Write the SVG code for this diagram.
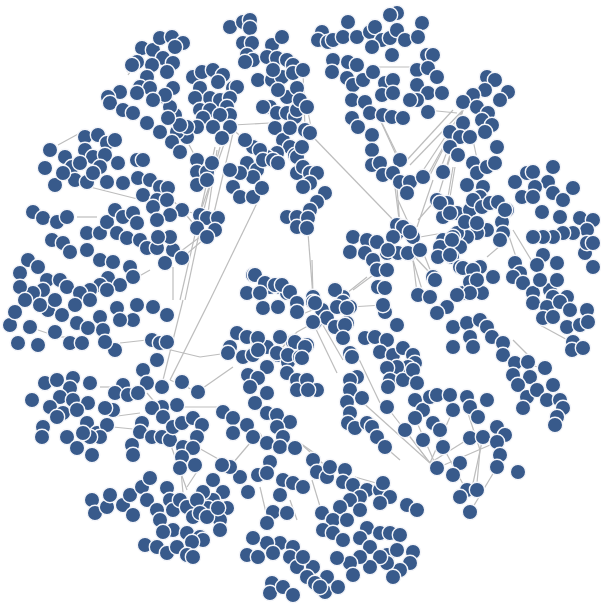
<svg xmlns="http://www.w3.org/2000/svg" width="601" height="607" viewBox="0 0 601 607">
<style>
circle{r:7.7px;fill:#385a8b;stroke:#f4f5f9;stroke-width:1.4}
line{stroke:#bdbdbd;stroke-width:1.2}
</style>
<rect width="601" height="607" fill="#fff"/>
<g id="connectors">
<line x1="313" y1="137" x2="400" y2="227"/><line x1="377" y1="113" x2="400" y2="160"/><line x1="395" y1="187" x2="400" y2="227"/>
<line x1="453" y1="110" x2="407" y2="160"/><line x1="433" y1="180" x2="417" y2="227"/><line x1="463" y1="110" x2="430" y2="175"/>
<line x1="463" y1="110" x2="440" y2="170"/><line x1="463" y1="110" x2="447" y2="165"/><line x1="458" y1="120" x2="425" y2="180"/>
<line x1="460" y1="125" x2="437" y2="200"/><line x1="463" y1="110" x2="410" y2="165"/><line x1="463" y1="110" x2="420" y2="175"/>
<line x1="308" y1="233" x2="313" y2="297"/><line x1="257" y1="203" x2="210" y2="300"/><line x1="200" y1="213" x2="180" y2="300"/>
<line x1="203" y1="215" x2="185" y2="300"/><line x1="220" y1="147" x2="203" y2="213"/><line x1="215" y1="147" x2="200" y2="213"/>
<line x1="230" y1="127" x2="200" y2="213"/><line x1="217" y1="150" x2="208" y2="213"/><line x1="233" y1="133" x2="213" y2="217"/>
<line x1="233" y1="125" x2="270" y2="123"/><line x1="183" y1="300" x2="163" y2="380"/><line x1="210" y1="300" x2="170" y2="380"/>
<line x1="200" y1="390" x2="233" y2="367"/><line x1="183" y1="407" x2="220" y2="407"/><line x1="197" y1="447" x2="220" y2="460"/>
<line x1="300" y1="443" x2="320" y2="457"/><line x1="430" y1="463" x2="387" y2="407"/><line x1="430" y1="463" x2="360" y2="400"/>
<line x1="430" y1="463" x2="405" y2="430"/><line x1="437" y1="468" x2="415" y2="418"/><line x1="430" y1="463" x2="470" y2="438"/>
<line x1="430" y1="463" x2="453" y2="410"/><line x1="437" y1="468" x2="497" y2="442"/><line x1="313" y1="137" x2="307" y2="107"/>
<line x1="305" y1="130" x2="303" y2="70"/><line x1="353" y1="290" x2="380" y2="270"/><line x1="473" y1="240" x2="503" y2="230"/>
<line x1="513" y1="230" x2="533" y2="263"/><line x1="537" y1="270" x2="540" y2="293"/><line x1="312" y1="260" x2="313" y2="297"/>
<line x1="347" y1="293" x2="367" y2="277"/><line x1="315" y1="322" x2="297" y2="332"/><line x1="297" y1="332" x2="277" y2="353"/>
<line x1="398" y1="200" x2="413" y2="233"/><line x1="418" y1="220" x2="433" y2="203"/><line x1="420" y1="237" x2="443" y2="233"/>
<line x1="415" y1="257" x2="430" y2="273"/><line x1="413" y1="260" x2="423" y2="293"/><line x1="58" y1="145" x2="80" y2="133"/>
<line x1="127" y1="72" x2="133" y2="65"/><line x1="90" y1="187" x2="193" y2="213"/><line x1="77" y1="217" x2="97" y2="217"/>
<line x1="173" y1="267" x2="173" y2="300"/><line x1="127" y1="283" x2="150" y2="270"/><line x1="170" y1="380" x2="198" y2="392"/>
<line x1="147" y1="383" x2="133" y2="395"/><line x1="300" y1="315" x2="320" y2="307"/><line x1="320" y1="320" x2="343" y2="360"/>
<line x1="313" y1="323" x2="337" y2="373"/><line x1="358" y1="357" x2="380" y2="403"/><line x1="355" y1="477" x2="383" y2="485"/>
<line x1="300" y1="443" x2="330" y2="470"/><line x1="312" y1="480" x2="322" y2="513"/><line x1="467" y1="410" x2="480" y2="450"/>
<line x1="480" y1="450" x2="477" y2="483"/><line x1="513" y1="340" x2="533" y2="360"/><line x1="540" y1="325" x2="573" y2="343"/>
<line x1="377" y1="440" x2="400" y2="460"/><line x1="373" y1="67" x2="410" y2="67"/><line x1="427" y1="110" x2="457" y2="113"/>
<line x1="377" y1="113" x2="397" y2="157"/><line x1="397" y1="187" x2="400" y2="227"/><line x1="455" y1="167" x2="450" y2="197"/>
<line x1="453" y1="167" x2="448" y2="197"/><line x1="473" y1="140" x2="480" y2="173"/><line x1="417" y1="237" x2="433" y2="277"/>
<line x1="413" y1="260" x2="417" y2="293"/><line x1="507" y1="230" x2="517" y2="260"/><line x1="487" y1="257" x2="507" y2="240"/>
<line x1="147" y1="340" x2="120" y2="343"/><line x1="50" y1="337" x2="73" y2="337"/><line x1="38" y1="330" x2="53" y2="335"/>
<line x1="147" y1="393" x2="167" y2="417"/><line x1="100" y1="387" x2="117" y2="387"/><line x1="110" y1="417" x2="140" y2="413"/>
<line x1="143" y1="430" x2="113" y2="427"/><line x1="170" y1="443" x2="187" y2="490"/><line x1="180" y1="460" x2="183" y2="493"/>
<line x1="187" y1="487" x2="200" y2="467"/><line x1="233" y1="463" x2="250" y2="443"/><line x1="260" y1="433" x2="267" y2="447"/>
<line x1="270" y1="463" x2="267" y2="480"/><line x1="260" y1="487" x2="267" y2="517"/><line x1="290" y1="500" x2="297" y2="520"/>
<line x1="147" y1="123" x2="160" y2="130"/><line x1="128" y1="75" x2="137" y2="62"/><line x1="165" y1="263" x2="200" y2="237"/>
<line x1="182" y1="258" x2="203" y2="240"/><line x1="182" y1="210" x2="197" y2="228"/><line x1="160" y1="187" x2="182" y2="210"/>
<line x1="150" y1="345" x2="200" y2="357"/><line x1="228" y1="353" x2="200" y2="357"/><line x1="297" y1="390" x2="320" y2="395"/>
<line x1="365" y1="338" x2="385" y2="340"/><line x1="350" y1="307" x2="383" y2="305"/><line x1="298" y1="230" x2="288" y2="218"/>
<line x1="270" y1="287" x2="255" y2="275"/><line x1="443" y1="447" x2="470" y2="497"/><line x1="497" y1="467" x2="470" y2="512"/>
<line x1="483" y1="437" x2="470" y2="497"/><line x1="515" y1="363" x2="545" y2="368"/><line x1="555" y1="425" x2="563" y2="408"/>
<line x1="245" y1="140" x2="230" y2="127"/><line x1="277" y1="113" x2="262" y2="100"/><line x1="185" y1="137" x2="197" y2="160"/>
</g>
<g id="nodes">
<g id="a1"><circle cx="230" cy="27"/></g><g id="a2"><circle cx="243" cy="22"/></g><g id="a3"><circle cx="250" cy="20"/></g><g id="a4"><circle cx="250" cy="28"/></g>
<g id="a5"><circle cx="243" cy="43"/></g><g id="a6"><circle cx="252" cy="43"/></g><g id="a7"><circle cx="247" cy="55"/></g><g id="a8"><circle cx="253" cy="60"/></g>
<g id="a9"><circle cx="272" cy="45"/></g><g id="a10"><circle cx="282" cy="37"/></g><g id="a11"><circle cx="267" cy="57"/></g><g id="a12"><circle cx="277" cy="58"/></g>
<g id="a13"><circle cx="287" cy="60"/></g><g id="a14"><circle cx="293" cy="65"/></g><g id="a15"><circle cx="245" cy="62"/></g><g id="a16"><circle cx="258" cy="80"/></g>
<g id="a17"><circle cx="272" cy="80"/></g><g id="a18"><circle cx="282" cy="77"/></g><g id="a19"><circle cx="293" cy="73"/></g><g id="a20"><circle cx="273" cy="70"/></g>
<g id="a21"><circle cx="287" cy="97"/></g><g id="a22"><circle cx="278" cy="90"/></g><g id="a23"><circle cx="270" cy="107"/></g><g id="a24"><circle cx="263" cy="107"/></g>
<g id="a25"><circle cx="277" cy="113"/></g><g id="a26"><circle cx="287" cy="113"/></g><g id="a27"><circle cx="295" cy="117"/></g><g id="a28"><circle cx="297" cy="110"/></g>
<g id="a29"><circle cx="275" cy="128"/></g><g id="a30"><circle cx="283" cy="140"/></g><g id="a31"><circle cx="290" cy="147"/></g><g id="a32"><circle cx="295" cy="155"/></g>
<g id="a33"><circle cx="277" cy="153"/></g><g id="a34"><circle cx="267" cy="157"/></g><g id="a35"><circle cx="253" cy="147"/></g><g id="a36"><circle cx="245" cy="140"/></g>
<g id="a37"><circle cx="260" cy="150"/></g><g id="a38"><circle cx="247" cy="163"/></g><g id="a39"><circle cx="257" cy="170"/></g><g id="a40"><circle cx="253" cy="177"/></g>
<g id="a41"><circle cx="240" cy="173"/></g><g id="a42"><circle cx="263" cy="160"/></g><g id="a43"><circle cx="273" cy="160"/></g><g id="a44"><circle cx="278" cy="163"/></g>
<g id="a45"><circle cx="233" cy="187"/></g><g id="a46"><circle cx="240" cy="197"/></g><g id="a47"><circle cx="253" cy="197"/></g><g id="a48"><circle cx="262" cy="188"/></g>
<g id="a49"><circle cx="230" cy="170"/></g><g id="a50"><circle cx="297" cy="88"/></g><g id="a51"><circle cx="300" cy="100"/></g><g id="a52"><circle cx="290" cy="128"/></g>
<g id="b1"><circle cx="193" cy="77"/></g><g id="b2"><circle cx="202" cy="72"/></g><g id="b3"><circle cx="213" cy="70"/></g><g id="b4"><circle cx="223" cy="75"/></g>
<g id="b5"><circle cx="218" cy="82"/></g><g id="b6"><circle cx="233" cy="88"/></g><g id="b7"><circle cx="237" cy="87"/></g><g id="b8"><circle cx="200" cy="88"/></g>
<g id="b9"><circle cx="210" cy="98"/></g><g id="b10"><circle cx="220" cy="100"/></g><g id="b11"><circle cx="230" cy="98"/></g><g id="b12"><circle cx="195" cy="98"/></g>
<g id="b13"><circle cx="200" cy="110"/></g><g id="b14"><circle cx="210" cy="110"/></g><g id="b15"><circle cx="227" cy="107"/></g><g id="b16"><circle cx="230" cy="115"/></g>
<g id="b17"><circle cx="220" cy="115"/></g><g id="b18"><circle cx="203" cy="118"/></g><g id="b19"><circle cx="197" cy="127"/></g><g id="b20"><circle cx="213" cy="127"/></g>
<g id="b21"><circle cx="230" cy="127"/></g><g id="b22"><circle cx="222" cy="138"/></g><g id="b23"><circle cx="187" cy="137"/></g><g id="b24"><circle cx="177" cy="132"/></g>
<g id="b25"><circle cx="187" cy="127"/></g><g id="b26"><circle cx="175" cy="115"/></g><g id="b27"><circle cx="165" cy="97"/></g><g id="b28"><circle cx="170" cy="107"/></g>
<g id="b29"><circle cx="180" cy="125"/></g>
<g id="c1"><circle cx="142" cy="48"/></g><g id="c2"><circle cx="153" cy="50"/></g><g id="c3"><circle cx="160" cy="38"/></g><g id="c4"><circle cx="172" cy="37"/></g>
<g id="c5"><circle cx="183" cy="43"/></g><g id="c6"><circle cx="175" cy="47"/></g><g id="c7"><circle cx="163" cy="58"/></g><g id="c8"><circle cx="173" cy="63"/></g>
<g id="c9"><circle cx="152" cy="65"/></g><g id="c10"><circle cx="137" cy="62"/></g><g id="c11"><circle cx="132" cy="65"/></g><g id="c12"><circle cx="147" cy="77"/></g>
<g id="c13"><circle cx="140" cy="87"/></g><g id="c14"><circle cx="150" cy="88"/></g><g id="c15"><circle cx="167" cy="72"/></g><g id="c16"><circle cx="173" cy="88"/></g>
<g id="c17"><circle cx="165" cy="95"/></g><g id="c18"><circle cx="153" cy="100"/></g><g id="c19"><circle cx="137" cy="93"/></g><g id="c20"><circle cx="120" cy="92"/></g>
<g id="c21"><circle cx="108" cy="97"/></g><g id="c22"><circle cx="110" cy="103"/></g><g id="c23"><circle cx="123" cy="110"/></g><g id="c24"><circle cx="133" cy="113"/></g>
<g id="c25"><circle cx="147" cy="123"/></g><g id="c26"><circle cx="160" cy="132"/></g><g id="c27"><circle cx="172" cy="142"/></g><g id="c28"><circle cx="180" cy="152"/></g>
<g id="c29"><circle cx="168" cy="118"/></g><g id="c30"><circle cx="197" cy="160"/></g><g id="c31"><circle cx="197" cy="172"/></g><g id="c32"><circle cx="207" cy="172"/></g>
<g id="c33"><circle cx="197" cy="185"/></g><g id="c34"><circle cx="212" cy="163"/></g><g id="c35"><circle cx="207" cy="180"/></g><g id="c36"><circle cx="200" cy="215"/></g>
<g id="c37"><circle cx="207" cy="218"/></g><g id="c38"><circle cx="218" cy="218"/></g><g id="c39"><circle cx="197" cy="228"/></g><g id="c40"><circle cx="215" cy="230"/></g>
<g id="c41"><circle cx="207" cy="237"/></g><g id="c42"><circle cx="182" cy="210"/></g>
<g id="d1"><circle cx="50" cy="150"/></g><g id="d2"><circle cx="45" cy="168"/></g><g id="d3"><circle cx="55" cy="185"/></g><g id="d4"><circle cx="65" cy="157"/></g>
<g id="d5"><circle cx="72" cy="167"/></g><g id="d6"><circle cx="75" cy="180"/></g><g id="d7"><circle cx="87" cy="182"/></g><g id="d8"><circle cx="85" cy="137"/></g>
<g id="d9"><circle cx="98" cy="135"/></g><g id="d10"><circle cx="85" cy="150"/></g><g id="d11"><circle cx="93" cy="157"/></g><g id="d12"><circle cx="107" cy="143"/></g>
<g id="d13"><circle cx="115" cy="140"/></g><g id="d14"><circle cx="105" cy="155"/></g><g id="d15"><circle cx="118" cy="163"/></g><g id="d16"><circle cx="100" cy="167"/></g>
<g id="d17"><circle cx="93" cy="173"/></g><g id="d18"><circle cx="107" cy="182"/></g><g id="d19"><circle cx="123" cy="183"/></g><g id="d20"><circle cx="137" cy="160"/></g>
<g id="d21"><circle cx="143" cy="160"/></g><g id="d22"><circle cx="138" cy="178"/></g><g id="d23"><circle cx="150" cy="180"/></g><g id="d24"><circle cx="160" cy="187"/></g>
<g id="d25"><circle cx="168" cy="188"/></g><g id="d26"><circle cx="143" cy="195"/></g><g id="d27"><circle cx="157" cy="200"/></g><g id="d28"><circle cx="167" cy="200"/></g>
<g id="d29"><circle cx="153" cy="207"/></g><g id="d30"><circle cx="170" cy="215"/></g><g id="d31"><circle cx="80" cy="163"/></g><g id="d32"><circle cx="63" cy="173"/></g>
<g id="e1"><circle cx="33" cy="212"/></g><g id="e2"><circle cx="43" cy="218"/></g><g id="e3"><circle cx="57" cy="222"/></g><g id="e4"><circle cx="67" cy="217"/></g>
<g id="e5"><circle cx="52" cy="240"/></g><g id="e6"><circle cx="63" cy="243"/></g><g id="e7"><circle cx="70" cy="252"/></g><g id="e8"><circle cx="87" cy="233"/></g>
<g id="e9"><circle cx="87" cy="250"/></g><g id="e10"><circle cx="100" cy="233"/></g><g id="e11"><circle cx="107" cy="222"/></g><g id="e12"><circle cx="115" cy="210"/></g>
<g id="e13"><circle cx="123" cy="217"/></g><g id="e14"><circle cx="133" cy="213"/></g><g id="e15"><circle cx="137" cy="223"/></g><g id="e16"><circle cx="117" cy="233"/></g>
<g id="e17"><circle cx="127" cy="238"/></g><g id="e18"><circle cx="140" cy="240"/></g><g id="e19"><circle cx="147" cy="248"/></g><g id="e20"><circle cx="157" cy="248"/></g>
<g id="e21"><circle cx="165" cy="263"/></g><g id="e22"><circle cx="173" cy="250"/></g><g id="e23"><circle cx="182" cy="258"/></g><g id="e24"><circle cx="100" cy="260"/></g>
<g id="e25"><circle cx="113" cy="262"/></g><g id="e26"><circle cx="130" cy="267"/></g><g id="e27"><circle cx="133" cy="277"/></g><g id="e28"><circle cx="108" cy="278"/></g>
<g id="e29"><circle cx="100" cy="285"/></g><g id="e30"><circle cx="120" cy="285"/></g><g id="e31"><circle cx="157" cy="220"/></g><g id="e32"><circle cx="170" cy="237"/></g>
<g id="e33"><circle cx="158" cy="237"/></g>
<g id="f1"><circle cx="28" cy="260"/></g><g id="f2"><circle cx="20" cy="273"/></g><g id="f3"><circle cx="38" cy="267"/></g><g id="f4"><circle cx="47" cy="280"/></g>
<g id="f5"><circle cx="60" cy="280"/></g><g id="f6"><circle cx="67" cy="287"/></g><g id="f7"><circle cx="43" cy="290"/></g><g id="f8"><circle cx="33" cy="293"/></g>
<g id="f9"><circle cx="20" cy="287"/></g><g id="f10"><circle cx="90" cy="290"/></g><g id="f11"><circle cx="80" cy="293"/></g><g id="f12"><circle cx="107" cy="290"/></g>
<g id="g1"><circle cx="297" cy="157"/></g><g id="g2"><circle cx="297" cy="173"/></g><g id="g3"><circle cx="287" cy="217"/></g><g id="g4"><circle cx="297" cy="217"/></g>
<g id="g5"><circle cx="297" cy="227"/></g><g id="g6"><circle cx="253" cy="275"/></g><g id="g7"><circle cx="247" cy="293"/></g><g id="g8"><circle cx="260" cy="293"/></g>
<g id="g9"><circle cx="270" cy="287"/></g><g id="g10"><circle cx="280" cy="287"/></g><g id="g11"><circle cx="287" cy="293"/></g>
<g id="h1"><circle cx="397" cy="13"/></g><g id="h2"><circle cx="390" cy="15"/></g><g id="h3"><circle cx="422" cy="23"/></g><g id="h4"><circle cx="348" cy="22"/></g>
<g id="h5"><circle cx="322" cy="32"/></g><g id="h6"><circle cx="318" cy="40"/></g><g id="h7"><circle cx="328" cy="42"/></g><g id="h8"><circle cx="333" cy="40"/></g>
<g id="h9"><circle cx="343" cy="37"/></g><g id="h10"><circle cx="357" cy="37"/></g><g id="h11"><circle cx="370" cy="32"/></g><g id="h12"><circle cx="375" cy="27"/></g>
<g id="h13"><circle cx="382" cy="40"/></g><g id="h14"><circle cx="390" cy="38"/></g><g id="h15"><circle cx="397" cy="30"/></g><g id="h16"><circle cx="405" cy="40"/></g>
<g id="h17"><circle cx="418" cy="37"/></g><g id="h18"><circle cx="372" cy="47"/></g><g id="h19"><circle cx="392" cy="55"/></g><g id="h20"><circle cx="333" cy="60"/></g>
<g id="h21"><circle cx="348" cy="62"/></g><g id="h22"><circle cx="357" cy="65"/></g><g id="h23"><circle cx="332" cy="72"/></g><g id="h24"><circle cx="347" cy="78"/></g>
<g id="h25"><circle cx="353" cy="85"/></g><g id="h26"><circle cx="363" cy="80"/></g><g id="h27"><circle cx="373" cy="72"/></g><g id="h28"><circle cx="385" cy="83"/></g>
<g id="h29"><circle cx="393" cy="80"/></g><g id="h30"><circle cx="382" cy="95"/></g><g id="h31"><circle cx="393" cy="93"/></g><g id="h32"><circle cx="352" cy="100"/></g>
<g id="h33"><circle cx="365" cy="102"/></g><g id="h34"><circle cx="370" cy="113"/></g><g id="h35"><circle cx="352" cy="118"/></g><g id="h36"><circle cx="358" cy="127"/></g>
<g id="h37"><circle cx="383" cy="115"/></g><g id="h38"><circle cx="392" cy="117"/></g><g id="h39"><circle cx="403" cy="118"/></g><g id="h40"><circle cx="417" cy="70"/></g>
<g id="h41"><circle cx="427" cy="55"/></g><g id="h42"><circle cx="433" cy="55"/></g><g id="h43"><circle cx="428" cy="68"/></g><g id="h44"><circle cx="437" cy="77"/></g>
<g id="h45"><circle cx="417" cy="85"/></g><g id="h46"><circle cx="428" cy="93"/></g><g id="h47"><circle cx="442" cy="93"/></g><g id="h48"><circle cx="417" cy="100"/></g>
<g id="h49"><circle cx="428" cy="112"/></g><g id="h50"><circle cx="410" cy="100"/></g><g id="h51"><circle cx="372" cy="135"/></g><g id="h52"><circle cx="372" cy="150"/></g>
<g id="h53"><circle cx="400" cy="160"/></g><g id="h54"><circle cx="372" cy="165"/></g><g id="h55"><circle cx="380" cy="163"/></g><g id="h56"><circle cx="383" cy="175"/></g>
<g id="h57"><circle cx="393" cy="173"/></g><g id="h58"><circle cx="400" cy="182"/></g><g id="h59"><circle cx="410" cy="182"/></g><g id="h60"><circle cx="407" cy="193"/></g>
<g id="h61"><circle cx="423" cy="177"/></g><g id="h62"><circle cx="443" cy="172"/></g>
<g id="i1"><circle cx="487" cy="77"/></g><g id="i2"><circle cx="495" cy="80"/></g><g id="i3"><circle cx="508" cy="92"/></g><g id="i4"><circle cx="500" cy="100"/></g>
<g id="i5"><circle cx="485" cy="90"/></g><g id="i6"><circle cx="473" cy="95"/></g><g id="i7"><circle cx="463" cy="102"/></g><g id="i8"><circle cx="477" cy="107"/></g>
<g id="i9"><circle cx="488" cy="113"/></g><g id="i10"><circle cx="482" cy="120"/></g><g id="i11"><circle cx="492" cy="125"/></g><g id="i12"><circle cx="485" cy="132"/></g>
<g id="i13"><circle cx="463" cy="123"/></g><g id="i14"><circle cx="450" cy="132"/></g><g id="i15"><circle cx="460" cy="137"/></g><g id="i16"><circle cx="470" cy="137"/></g>
<g id="i17"><circle cx="450" cy="147"/></g><g id="i18"><circle cx="458" cy="155"/></g><g id="i19"><circle cx="473" cy="163"/></g><g id="i20"><circle cx="477" cy="173"/></g>
<g id="i21"><circle cx="467" cy="185"/></g><g id="i22"><circle cx="437" cy="200"/></g><g id="i23"><circle cx="447" cy="203"/></g><g id="i24"><circle cx="457" cy="213"/></g>
<g id="i25"><circle cx="443" cy="217"/></g><g id="i26"><circle cx="470" cy="210"/></g><g id="i27"><circle cx="483" cy="187"/></g><g id="i28"><circle cx="487" cy="167"/></g>
<g id="i29"><circle cx="497" cy="147"/></g><g id="i30"><circle cx="495" cy="163"/></g><g id="i31"><circle cx="480" cy="197"/></g><g id="i32"><circle cx="473" cy="200"/></g>
<g id="i33"><circle cx="482" cy="207"/></g><g id="i34"><circle cx="490" cy="203"/></g><g id="i35"><circle cx="498" cy="202"/></g><g id="i36"><circle cx="507" cy="210"/></g>
<g id="i37"><circle cx="502" cy="222"/></g><g id="i38"><circle cx="480" cy="227"/></g><g id="i39"><circle cx="487" cy="230"/></g><g id="i40"><circle cx="477" cy="233"/></g>
<g id="i41"><circle cx="467" cy="237"/></g><g id="i42"><circle cx="457" cy="233"/></g><g id="i43"><circle cx="460" cy="247"/></g><g id="i44"><circle cx="503" cy="233"/></g>
<g id="i45"><circle cx="500" cy="240"/></g><g id="i46"><circle cx="505" cy="210"/></g>
<g id="j1"><circle cx="515" cy="182"/></g><g id="j2"><circle cx="527" cy="173"/></g><g id="j3"><circle cx="533" cy="172"/></g><g id="j4"><circle cx="553" cy="167"/></g>
<g id="j5"><circle cx="548" cy="182"/></g><g id="j6"><circle cx="535" cy="187"/></g><g id="j7"><circle cx="522" cy="197"/></g><g id="j8"><circle cx="533" cy="197"/></g>
<g id="j9"><circle cx="542" cy="212"/></g><g id="j10"><circle cx="553" cy="193"/></g><g id="j11"><circle cx="563" cy="200"/></g><g id="j12"><circle cx="573" cy="188"/></g>
<g id="j13"><circle cx="560" cy="217"/></g><g id="j14"><circle cx="580" cy="218"/></g><g id="j15"><circle cx="593" cy="220"/></g><g id="j16"><circle cx="587" cy="230"/></g>
<g id="j17"><circle cx="573" cy="233"/></g><g id="j18"><circle cx="563" cy="233"/></g><g id="j19"><circle cx="553" cy="237"/></g><g id="j20"><circle cx="543" cy="237"/></g>
<g id="j21"><circle cx="533" cy="237"/></g><g id="j22"><circle cx="543" cy="255"/></g><g id="j23"><circle cx="557" cy="263"/></g><g id="j24"><circle cx="537" cy="265"/></g>
<g id="j25"><circle cx="585" cy="253"/></g><g id="j26"><circle cx="593" cy="267"/></g><g id="j27"><circle cx="587" cy="243"/></g><g id="j28"><circle cx="593" cy="243"/></g>
<g id="k1"><circle cx="400" cy="227"/></g><g id="k2"><circle cx="407" cy="230"/></g><g id="k3"><circle cx="413" cy="237"/></g><g id="k4"><circle cx="397" cy="233"/></g>
<g id="k5"><circle cx="353" cy="237"/></g><g id="k6"><circle cx="350" cy="252"/></g><g id="k7"><circle cx="367" cy="240"/></g><g id="k8"><circle cx="377" cy="242"/></g>
<g id="k9"><circle cx="365" cy="253"/></g><g id="k10"><circle cx="373" cy="260"/></g><g id="k11"><circle cx="387" cy="253"/></g><g id="k12"><circle cx="398" cy="253"/></g>
<g id="k13"><circle cx="410" cy="253"/></g><g id="k14"><circle cx="377" cy="270"/></g><g id="k15"><circle cx="378" cy="287"/></g><g id="k16"><circle cx="335" cy="290"/></g>
<g id="k17"><circle cx="313" cy="297"/></g><g id="k18"><circle cx="343" cy="297"/></g><g id="k19"><circle cx="433" cy="277"/></g><g id="k20"><circle cx="443" cy="240"/></g>
<g id="k21"><circle cx="453" cy="237"/></g><g id="k22"><circle cx="440" cy="247"/></g><g id="k23"><circle cx="438" cy="257"/></g><g id="k24"><circle cx="452" cy="257"/></g>
<g id="k25"><circle cx="460" cy="267"/></g><g id="k26"><circle cx="470" cy="273"/></g><g id="k27"><circle cx="480" cy="267"/></g><g id="k28"><circle cx="493" cy="277"/></g>
<g id="k29"><circle cx="473" cy="283"/></g><g id="k30"><circle cx="482" cy="293"/></g><g id="k31"><circle cx="463" cy="293"/></g><g id="k32"><circle cx="418" cy="295"/></g>
<g id="k33"><circle cx="430" cy="297"/></g><g id="k34"><circle cx="515" cy="263"/></g><g id="k35"><circle cx="520" cy="273"/></g><g id="k36"><circle cx="513" cy="277"/></g>
<g id="k37"><circle cx="523" cy="283"/></g><g id="k38"><circle cx="533" cy="293"/></g><g id="k39"><circle cx="550" cy="290"/></g><g id="k40"><circle cx="557" cy="280"/></g>
<g id="k41"><circle cx="540" cy="280"/></g><g id="k42"><circle cx="553" cy="297"/></g><g id="k43"><circle cx="567" cy="297"/></g><g id="k44"><circle cx="303" cy="70"/></g>
<g id="k45"><circle cx="307" cy="107"/></g><g id="k46"><circle cx="305" cy="130"/></g><g id="k47"><circle cx="310" cy="133"/></g><g id="k48"><circle cx="302" cy="147"/></g>
<g id="k49"><circle cx="303" cy="167"/></g><g id="k50"><circle cx="310" cy="173"/></g><g id="k51"><circle cx="317" cy="173"/></g><g id="k52"><circle cx="310" cy="183"/></g>
<g id="k53"><circle cx="303" cy="187"/></g><g id="k54"><circle cx="325" cy="193"/></g><g id="k55"><circle cx="317" cy="202"/></g><g id="k56"><circle cx="310" cy="210"/></g>
<g id="k57"><circle cx="308" cy="218"/></g><g id="k58"><circle cx="307" cy="228"/></g>
<g id="m1"><circle cx="397" cy="225"/></g><g id="m2"><circle cx="403" cy="227"/></g><g id="m3"><circle cx="410" cy="232"/></g><g id="m4"><circle cx="393" cy="237"/></g>
<g id="m5"><circle cx="388" cy="250"/></g><g id="m6"><circle cx="408" cy="253"/></g><g id="m7"><circle cx="420" cy="250"/></g><g id="m8"><circle cx="440" cy="203"/></g>
<g id="m9"><circle cx="450" cy="213"/></g><g id="m10"><circle cx="465" cy="222"/></g><g id="m11"><circle cx="477" cy="223"/></g><g id="m12"><circle cx="452" cy="240"/></g>
<g id="m13"><circle cx="450" cy="255"/></g><g id="m14"><circle cx="463" cy="268"/></g><g id="m15"><circle cx="473" cy="270"/></g><g id="m16"><circle cx="435" cy="280"/></g>
<g id="m17"><circle cx="387" cy="270"/></g><g id="m18"><circle cx="385" cy="288"/></g><g id="m19"><circle cx="470" cy="282"/></g><g id="m20"><circle cx="477" cy="280"/></g>
<g id="m21"><circle cx="470" cy="293"/></g><g id="m22"><circle cx="457" cy="295"/></g>
<g id="l1"><circle cx="48" cy="310"/></g><g id="l2"><circle cx="10" cy="325"/></g><g id="l3"><circle cx="18" cy="343"/></g><g id="l4"><circle cx="30" cy="327"/></g>
<g id="l5"><circle cx="38" cy="345"/></g><g id="l6"><circle cx="55" cy="332"/></g><g id="l7"><circle cx="77" cy="323"/></g><g id="l8"><circle cx="70" cy="343"/></g>
<g id="l9"><circle cx="82" cy="343"/></g><g id="l10"><circle cx="88" cy="328"/></g><g id="l11"><circle cx="100" cy="317"/></g><g id="l12"><circle cx="103" cy="330"/></g>
<g id="l13"><circle cx="117" cy="308"/></g><g id="l14"><circle cx="133" cy="320"/></g><g id="l15"><circle cx="115" cy="350"/></g><g id="l16"><circle cx="105" cy="342"/></g>
<g id="l17"><circle cx="152" cy="340"/></g><g id="l18"><circle cx="160" cy="343"/></g><g id="l19"><circle cx="167" cy="342"/></g><g id="l20"><circle cx="167" cy="315"/></g>
<g id="l21"><circle cx="153" cy="307"/></g><g id="l22"><circle cx="137" cy="305"/></g><g id="l23"><circle cx="157" cy="360"/></g><g id="l24"><circle cx="143" cy="370"/></g>
<g id="l25"><circle cx="147" cy="383"/></g><g id="l26"><circle cx="162" cy="387"/></g><g id="l27"><circle cx="182" cy="382"/></g><g id="l28"><circle cx="198" cy="392"/></g>
<g id="l29"><circle cx="177" cy="405"/></g><g id="l30"><circle cx="162" cy="407"/></g><g id="l31"><circle cx="152" cy="408"/></g><g id="l32"><circle cx="163" cy="417"/></g>
<g id="l33"><circle cx="25" cy="300"/></g><g id="l34"><circle cx="40" cy="305"/></g><g id="l35"><circle cx="15" cy="312"/></g><g id="l36"><circle cx="55" cy="300"/></g>
<g id="l37"><circle cx="62" cy="315"/></g><g id="l38"><circle cx="75" cy="305"/></g><g id="l39"><circle cx="90" cy="300"/></g><g id="l40"><circle cx="120" cy="320"/></g>
<g id="p1"><circle cx="32" cy="400"/></g><g id="p2"><circle cx="45" cy="383"/></g><g id="p3"><circle cx="57" cy="380"/></g><g id="p4"><circle cx="73" cy="378"/></g>
<g id="p5"><circle cx="70" cy="388"/></g><g id="p6"><circle cx="90" cy="383"/></g><g id="p7"><circle cx="60" cy="397"/></g><g id="p8"><circle cx="50" cy="407"/></g>
<g id="p9"><circle cx="73" cy="400"/></g><g id="p10"><circle cx="88" cy="403"/></g><g id="p11"><circle cx="63" cy="413"/></g><g id="p12"><circle cx="77" cy="410"/></g>
<g id="p13"><circle cx="57" cy="417"/></g><g id="p14"><circle cx="43" cy="427"/></g><g id="p15"><circle cx="42" cy="437"/></g><g id="p16"><circle cx="67" cy="437"/></g>
<g id="p17"><circle cx="77" cy="448"/></g><g id="p18"><circle cx="92" cy="455"/></g><g id="p19"><circle cx="87" cy="423"/></g><g id="p20"><circle cx="97" cy="433"/></g>
<g id="p21"><circle cx="107" cy="425"/></g><g id="p22"><circle cx="113" cy="410"/></g><g id="p23"><circle cx="105" cy="408"/></g><g id="p24"><circle cx="123" cy="385"/></g>
<g id="p25"><circle cx="115" cy="393"/></g><g id="p26"><circle cx="128" cy="395"/></g><g id="p27"><circle cx="138" cy="393"/></g><g id="p28"><circle cx="100" cy="437"/></g>
<g id="p29"><circle cx="90" cy="437"/></g><g id="p30"><circle cx="83" cy="433"/></g>
<g id="q1"><circle cx="142" cy="423"/></g><g id="q2"><circle cx="132" cy="445"/></g><g id="q3"><circle cx="133" cy="455"/></g><g id="q4"><circle cx="140" cy="432"/></g>
<g id="q5"><circle cx="152" cy="437"/></g><g id="q6"><circle cx="162" cy="437"/></g><g id="q7"><circle cx="170" cy="440"/></g><g id="q8"><circle cx="173" cy="427"/></g>
<g id="q9"><circle cx="182" cy="423"/></g><g id="q10"><circle cx="193" cy="418"/></g><g id="q11"><circle cx="202" cy="425"/></g><g id="q12"><circle cx="197" cy="437"/></g>
<g id="q13"><circle cx="183" cy="447"/></g><g id="q14"><circle cx="193" cy="448"/></g><g id="q15"><circle cx="182" cy="457"/></g><g id="q16"><circle cx="180" cy="468"/></g>
<g id="q17"><circle cx="195" cy="465"/></g>
<g id="o1"><circle cx="237" cy="333"/></g><g id="o2"><circle cx="247" cy="337"/></g><g id="o3"><circle cx="258" cy="340"/></g><g id="o4"><circle cx="230" cy="347"/></g>
<g id="o5"><circle cx="228" cy="353"/></g><g id="o6"><circle cx="243" cy="357"/></g><g id="o7"><circle cx="253" cy="355"/></g><g id="o8"><circle cx="267" cy="347"/></g>
<g id="o9"><circle cx="280" cy="337"/></g><g id="o10"><circle cx="293" cy="342"/></g><g id="o11"><circle cx="278" cy="355"/></g><g id="o12"><circle cx="288" cy="362"/></g>
<g id="o13"><circle cx="267" cy="367"/></g><g id="o14"><circle cx="287" cy="373"/></g><g id="o15"><circle cx="297" cy="380"/></g><g id="o16"><circle cx="248" cy="375"/></g>
<g id="o17"><circle cx="258" cy="378"/></g><g id="o18"><circle cx="250" cy="387"/></g><g id="o19"><circle cx="267" cy="393"/></g><g id="o20"><circle cx="297" cy="390"/></g>
<g id="o21"><circle cx="223" cy="412"/></g><g id="o22"><circle cx="233" cy="418"/></g><g id="o23"><circle cx="247" cy="425"/></g><g id="o24"><circle cx="233" cy="433"/></g>
<g id="o25"><circle cx="253" cy="437"/></g><g id="o26"><circle cx="255" cy="403"/></g><g id="o27"><circle cx="267" cy="413"/></g><g id="o28"><circle cx="277" cy="415"/></g>
<g id="o29"><circle cx="290" cy="422"/></g><g id="o30"><circle cx="277" cy="427"/></g><g id="o31"><circle cx="283" cy="437"/></g><g id="o32"><circle cx="267" cy="443"/></g>
<g id="o33"><circle cx="280" cy="447"/></g><g id="o34"><circle cx="295" cy="448"/></g><g id="o35"><circle cx="270" cy="462"/></g><g id="o36"><circle cx="258" cy="475"/></g>
<g id="o37"><circle cx="248" cy="492"/></g><g id="o38"><circle cx="240" cy="477"/></g><g id="o39"><circle cx="230" cy="467"/></g><g id="o40"><circle cx="222" cy="465"/></g>
<g id="o41"><circle cx="213" cy="480"/></g><g id="o42"><circle cx="223" cy="492"/></g><g id="o43"><circle cx="213" cy="500"/></g><g id="o44"><circle cx="227" cy="508"/></g>
<g id="o45"><circle cx="220" cy="520"/></g><g id="o46"><circle cx="220" cy="530"/></g><g id="o47"><circle cx="203" cy="492"/></g><g id="o48"><circle cx="208" cy="508"/></g>
<g id="s1"><circle cx="92" cy="500"/></g><g id="s2"><circle cx="95" cy="513"/></g><g id="s3"><circle cx="107" cy="507"/></g><g id="s4"><circle cx="110" cy="495"/></g>
<g id="s5"><circle cx="123" cy="505"/></g><g id="s6"><circle cx="130" cy="495"/></g><g id="s7"><circle cx="133" cy="515"/></g><g id="s8"><circle cx="142" cy="487"/></g>
<g id="s9"><circle cx="150" cy="478"/></g><g id="s10"><circle cx="147" cy="500"/></g><g id="s11"><circle cx="157" cy="510"/></g><g id="s12"><circle cx="167" cy="488"/></g>
<g id="s13"><circle cx="170" cy="500"/></g><g id="s14"><circle cx="160" cy="520"/></g><g id="s15"><circle cx="173" cy="510"/></g><g id="s16"><circle cx="180" cy="500"/></g>
<g id="s17"><circle cx="187" cy="507"/></g><g id="s18"><circle cx="193" cy="517"/></g><g id="s19"><circle cx="173" cy="530"/></g><g id="s20"><circle cx="163" cy="532"/></g>
<g id="s21"><circle cx="187" cy="533"/></g><g id="s22"><circle cx="200" cy="537"/></g><g id="s23"><circle cx="203" cy="540"/></g><g id="s24"><circle cx="192" cy="542"/></g>
<g id="s25"><circle cx="145" cy="545"/></g><g id="s26"><circle cx="157" cy="547"/></g><g id="s27"><circle cx="167" cy="553"/></g><g id="s28"><circle cx="177" cy="547"/></g>
<g id="s29"><circle cx="187" cy="555"/></g><g id="s30"><circle cx="193" cy="557"/></g><g id="s31"><circle cx="197" cy="500"/></g><g id="s32"><circle cx="200" cy="513"/></g>
<g id="s33"><circle cx="207" cy="517"/></g><g id="s34"><circle cx="218" cy="508"/></g>
<g id="t1"><circle cx="267" cy="473"/></g><g id="t2"><circle cx="283" cy="480"/></g><g id="t3"><circle cx="293" cy="483"/></g><g id="t4"><circle cx="280" cy="495"/></g>
<g id="t5"><circle cx="273" cy="512"/></g><g id="t6"><circle cx="287" cy="513"/></g><g id="t7"><circle cx="267" cy="523"/></g><g id="t8"><circle cx="280" cy="543"/></g>
<g id="t9"><circle cx="293" cy="547"/></g><g id="t10"><circle cx="267" cy="543"/></g><g id="t11"><circle cx="253" cy="538"/></g><g id="t12"><circle cx="247" cy="555"/></g>
<g id="t13"><circle cx="258" cy="557"/></g><g id="t14"><circle cx="273" cy="553"/></g><g id="t15"><circle cx="290" cy="557"/></g><g id="t16"><circle cx="297" cy="567"/></g>
<g id="t17"><circle cx="272" cy="583"/></g><g id="t18"><circle cx="270" cy="593"/></g><g id="t19"><circle cx="283" cy="587"/></g><g id="t20"><circle cx="293" cy="595"/></g>
<g id="u1"><circle cx="255" cy="275"/></g><g id="u2"><circle cx="265" cy="283"/></g><g id="u3"><circle cx="275" cy="285"/></g><g id="u4"><circle cx="282" cy="285"/></g>
<g id="u5"><circle cx="260" cy="293"/></g><g id="u6"><circle cx="263" cy="308"/></g><g id="u7"><circle cx="278" cy="307"/></g><g id="u8"><circle cx="290" cy="292"/></g>
<g id="u9"><circle cx="297" cy="303"/></g><g id="u10"><circle cx="297" cy="312"/></g><g id="u11"><circle cx="313" cy="302"/></g><g id="u12"><circle cx="315" cy="322"/></g>
<g id="u13"><circle cx="322" cy="310"/></g><g id="u14"><circle cx="327" cy="318"/></g><g id="u15"><circle cx="335" cy="290"/></g><g id="u16"><circle cx="338" cy="307"/></g>
<g id="u17"><circle cx="343" cy="302"/></g><g id="u18"><circle cx="350" cy="307"/></g><g id="u19"><circle cx="335" cy="327"/></g><g id="u20"><circle cx="347" cy="323"/></g>
<g id="u21"><circle cx="343" cy="338"/></g><g id="u22"><circle cx="280" cy="337"/></g><g id="u23"><circle cx="295" cy="342"/></g><g id="u24"><circle cx="307" cy="345"/></g>
<g id="u25"><circle cx="258" cy="338"/></g><g id="u26"><circle cx="258" cy="350"/></g><g id="u27"><circle cx="277" cy="353"/></g><g id="u28"><circle cx="288" cy="355"/></g>
<g id="u29"><circle cx="300" cy="357"/></g><g id="u30"><circle cx="350" cy="353"/></g><g id="u31"><circle cx="365" cy="338"/></g>
<g id="r1"><circle cx="315" cy="303"/></g><g id="r2"><circle cx="313" cy="322"/></g><g id="r3"><circle cx="305" cy="347"/></g><g id="r4"><circle cx="302" cy="358"/></g>
<g id="r5"><circle cx="337" cy="307"/></g><g id="r6"><circle cx="347" cy="308"/></g><g id="r7"><circle cx="335" cy="327"/></g><g id="r8"><circle cx="345" cy="325"/></g>
<g id="r9"><circle cx="343" cy="338"/></g><g id="r10"><circle cx="352" cy="357"/></g><g id="r11"><circle cx="357" cy="377"/></g><g id="r12"><circle cx="350" cy="380"/></g>
<g id="r13"><circle cx="350" cy="390"/></g><g id="r14"><circle cx="362" cy="398"/></g><g id="r15"><circle cx="347" cy="402"/></g><g id="r16"><circle cx="350" cy="413"/></g>
<g id="r17"><circle cx="348" cy="423"/></g><g id="r18"><circle cx="355" cy="428"/></g><g id="r19"><circle cx="367" cy="423"/></g><g id="r20"><circle cx="372" cy="427"/></g>
<g id="r21"><circle cx="377" cy="437"/></g><g id="r22"><circle cx="385" cy="447"/></g><g id="r23"><circle cx="307" cy="380"/></g><g id="r24"><circle cx="317" cy="390"/></g>
<g id="r25"><circle cx="308" cy="390"/></g><g id="r26"><circle cx="385" cy="312"/></g><g id="r27"><circle cx="383" cy="305"/></g><g id="r28"><circle cx="397" cy="325"/></g>
<g id="r29"><circle cx="375" cy="337"/></g><g id="r30"><circle cx="387" cy="340"/></g><g id="r31"><circle cx="380" cy="352"/></g><g id="r32"><circle cx="393" cy="355"/></g>
<g id="r33"><circle cx="403" cy="348"/></g><g id="r34"><circle cx="413" cy="355"/></g><g id="r35"><circle cx="415" cy="363"/></g><g id="r36"><circle cx="408" cy="367"/></g>
<g id="r37"><circle cx="397" cy="367"/></g><g id="r38"><circle cx="387" cy="368"/></g><g id="r39"><circle cx="390" cy="380"/></g><g id="r40"><circle cx="403" cy="380"/></g>
<g id="r41"><circle cx="413" cy="370"/></g><g id="r42"><circle cx="417" cy="383"/></g><g id="r43"><circle cx="388" cy="387"/></g><g id="r44"><circle cx="415" cy="400"/></g>
<g id="r45"><circle cx="423" cy="410"/></g><g id="r46"><circle cx="415" cy="418"/></g><g id="r47"><circle cx="430" cy="397"/></g><g id="r48"><circle cx="437" cy="395"/></g>
<g id="r49"><circle cx="450" cy="395"/></g><g id="r50"><circle cx="467" cy="397"/></g><g id="r51"><circle cx="470" cy="407"/></g><g id="r52"><circle cx="487" cy="400"/></g>
<g id="r53"><circle cx="453" cy="410"/></g><g id="r54"><circle cx="433" cy="423"/></g><g id="r55"><circle cx="440" cy="430"/></g><g id="r56"><circle cx="423" cy="440"/></g>
<g id="r57"><circle cx="443" cy="447"/></g><g id="r58"><circle cx="405" cy="430"/></g><g id="r59"><circle cx="387" cy="407"/></g><g id="r60"><circle cx="478" cy="417"/></g>
<g id="r61"><circle cx="497" cy="427"/></g><g id="r62"><circle cx="505" cy="435"/></g><g id="r63"><circle cx="470" cy="438"/></g><g id="r64"><circle cx="483" cy="437"/></g>
<g id="r65"><circle cx="497" cy="442"/></g><g id="r66"><circle cx="500" cy="455"/></g><g id="r67"><circle cx="497" cy="467"/></g><g id="r68"><circle cx="518" cy="472"/></g>
<g id="r69"><circle cx="460" cy="463"/></g><g id="r70"><circle cx="453" cy="475"/></g><g id="r71"><circle cx="437" cy="468"/></g><g id="r72"><circle cx="467" cy="490"/></g>
<g id="r73"><circle cx="477" cy="490"/></g><g id="r74"><circle cx="460" cy="497"/></g><g id="r75"><circle cx="470" cy="512"/></g><g id="r76"><circle cx="447" cy="307"/></g>
<g id="r77"><circle cx="437" cy="313"/></g><g id="r78"><circle cx="453" cy="327"/></g><g id="r79"><circle cx="467" cy="323"/></g><g id="r80"><circle cx="480" cy="320"/></g>
<g id="r81"><circle cx="470" cy="337"/></g><g id="r82"><circle cx="487" cy="327"/></g><g id="r83"><circle cx="453" cy="347"/></g><g id="r84"><circle cx="473" cy="347"/></g>
<g id="r85"><circle cx="492" cy="337"/></g><g id="r86"><circle cx="503" cy="343"/></g><g id="r87"><circle cx="503" cy="355"/></g><g id="r88"><circle cx="515" cy="363"/></g>
<g id="r89"><circle cx="528" cy="362"/></g><g id="r90"><circle cx="513" cy="375"/></g><g id="r91"><circle cx="530" cy="377"/></g><g id="r92"><circle cx="545" cy="368"/></g>
<g id="r93"><circle cx="518" cy="385"/></g><g id="r94"><circle cx="527" cy="397"/></g><g id="r95"><circle cx="537" cy="390"/></g><g id="r96"><circle cx="553" cy="385"/></g>
<g id="r97"><circle cx="547" cy="400"/></g><g id="r98"><circle cx="523" cy="408"/></g><g id="r99"><circle cx="560" cy="400"/></g><g id="r100"><circle cx="563" cy="408"/></g>
<g id="r101"><circle cx="557" cy="417"/></g><g id="r102"><circle cx="555" cy="425"/></g><g id="r103"><circle cx="533" cy="303"/></g><g id="r104"><circle cx="547" cy="307"/></g>
<g id="r105"><circle cx="560" cy="302"/></g><g id="r106"><circle cx="570" cy="310"/></g><g id="r107"><circle cx="587" cy="310"/></g><g id="r108"><circle cx="543" cy="318"/></g>
<g id="r109"><circle cx="553" cy="317"/></g><g id="r110"><circle cx="567" cy="327"/></g><g id="r111"><circle cx="580" cy="325"/></g><g id="r112"><circle cx="588" cy="322"/></g>
<g id="r113"><circle cx="573" cy="342"/></g><g id="r114"><circle cx="572" cy="350"/></g><g id="r115"><circle cx="583" cy="348"/></g>
<g id="v1"><circle cx="313" cy="460"/></g><g id="v2"><circle cx="317" cy="472"/></g><g id="v3"><circle cx="303" cy="487"/></g><g id="v4"><circle cx="327" cy="477"/></g>
<g id="v5"><circle cx="330" cy="467"/></g><g id="v6"><circle cx="345" cy="470"/></g><g id="v7"><circle cx="343" cy="482"/></g><g id="v8"><circle cx="353" cy="485"/></g>
<g id="v9"><circle cx="367" cy="490"/></g><g id="v10"><circle cx="380" cy="490"/></g><g id="v11"><circle cx="383" cy="483"/></g><g id="v12"><circle cx="390" cy="497"/></g>
<g id="v13"><circle cx="380" cy="503"/></g><g id="v14"><circle cx="360" cy="497"/></g><g id="v15"><circle cx="350" cy="500"/></g><g id="v16"><circle cx="340" cy="507"/></g>
<g id="v17"><circle cx="360" cy="510"/></g><g id="v18"><circle cx="407" cy="505"/></g><g id="v19"><circle cx="417" cy="510"/></g><g id="v20"><circle cx="322" cy="513"/></g>
<g id="v21"><circle cx="333" cy="520"/></g><g id="v22"><circle cx="347" cy="520"/></g><g id="v23"><circle cx="367" cy="528"/></g><g id="v24"><circle cx="323" cy="530"/></g>
<g id="v25"><circle cx="333" cy="533"/></g><g id="v26"><circle cx="343" cy="540"/></g><g id="v27"><circle cx="360" cy="538"/></g><g id="v28"><circle cx="380" cy="533"/></g>
<g id="v29"><circle cx="390" cy="533"/></g><g id="v30"><circle cx="400" cy="535"/></g><g id="v31"><circle cx="370" cy="547"/></g><g id="v32"><circle cx="387" cy="555"/></g>
<g id="v33"><circle cx="397" cy="550"/></g><g id="v34"><circle cx="413" cy="552"/></g><g id="v35"><circle cx="410" cy="563"/></g><g id="v36"><circle cx="400" cy="570"/></g>
<g id="v37"><circle cx="387" cy="563"/></g><g id="v38"><circle cx="380" cy="557"/></g><g id="v39"><circle cx="370" cy="567"/></g><g id="v40"><circle cx="360" cy="557"/></g>
<g id="v41"><circle cx="350" cy="563"/></g><g id="v42"><circle cx="353" cy="575"/></g><g id="v43"><circle cx="337" cy="558"/></g><g id="v44"><circle cx="327" cy="577"/></g>
<g id="v45"><circle cx="313" cy="567"/></g><g id="v46"><circle cx="307" cy="577"/></g><g id="v47"><circle cx="315" cy="583"/></g><g id="v48"><circle cx="325" cy="592"/></g>
<g id="v49"><circle cx="338" cy="587"/></g><g id="v50"><circle cx="320" cy="587"/></g><g id="v51"><circle cx="393" cy="577"/></g><g id="v52"><circle cx="303" cy="557"/></g>
</g>
</svg>
